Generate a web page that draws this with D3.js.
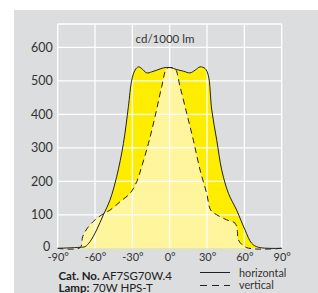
<!DOCTYPE html>
<html>
<head>
<meta charset="utf-8">
<script src="https://cdn.jsdelivr.net/npm/d3@7"></script>
<style>
  body { margin: 0; background: #fff; }
  svg { display: block; font-family: Lato, "Noto Sans", sans-serif; }
</style>
</head>
<body>
<svg id="chart"></svg>
<script>
const W = 318, H = 293;

// angle (deg) and candela values
const hAngles = [-90, -72, -68, -64, -58.7, -53.3, -48, -42.6, -37.2, -33.2, -30.5, -27.9, -25.2, -22.5, -18.5, -14.5, -10.4, -5, 0.3, 5.6, 11, 16.3, 20.4, 24.4, 28.4, 31, 33.8, 37.8, 41.8, 47.2, 53.8, 60.5, 65.9, 71.3, 90];
const hValues = [0, 3, 5, 20, 55, 100, 144, 214, 313, 423, 502, 532, 542, 537, 524, 527, 532, 539, 540, 534, 529, 524, 532, 542, 537, 517, 413, 323, 234, 164, 114, 55, 15, 3, 0];

const vAngles = [-90, -72, -69.9, -66.2, -60, -54.6, -48, -39.9, -31.9, -26.5, -22.5, -17.1, -11.8, -6.4, -2.4, 0.8, 4.3, 8.3, 13.7, 19, 24.4, 29.7, 33, 37.8, 45.8, 52.5, 54.4, 55.2, 61.9, 90];
const vValues = [0, 2, 35, 60, 85, 100, 114, 139, 164, 199, 244, 313, 393, 483, 537, 540, 537, 483, 403, 323, 234, 164, 114, 100, 85, 75, 50, 25, 2, 0];

const xTicks = [-90, -60, -30, 0, 30, 60, 90];
const yTicks = [0, 100, 200, 300, 400, 500, 600];

const horiz = hAngles.map((a, i) => [a, hValues[i]]);
const vert = vAngles.map((a, i) => [a, vValues[i]]);

const svg = d3.select('#chart').attr('width', W).attr('height', H);

svg.append('rect')
  .attr('x', 14).attr('y', 10)
  .attr('width', W - 14).attr('height', H - 10)
  .attr('fill', '#dcddde');

const x = d3.scaleLinear().domain([-90, 90]).range([57.7, 281.7]);
const y = d3.scaleLinear().domain([0, 670]).range([248.3, 24]);

const area = d3.area()
  .x(d => x(d[0])).y0(y(0)).y1(d => y(d[1]))
  .curve(d3.curveCatmullRom.alpha(0.5));
const line = d3.line()
  .x(d => x(d[0])).y(d => y(d[1]))
  .curve(d3.curveCatmullRom.alpha(0.5));

svg.append('path').attr('d', area(horiz)).attr('fill', '#ffed00');
svg.append('path').attr('d', area(vert)).attr('fill', '#fff59c');

// grid on top of fills
const grid = svg.append('g').attr('stroke', '#fff').attr('stroke-width', 1.3);
grid.selectAll('line.v')
  .data(xTicks)
  .enter()
  .append('line')
  .attr('x1', d => x(d)).attr('x2', d => x(d))
  .attr('y1', y(0)).attr('y2', y.range()[1]);
grid.selectAll('line.h')
  .data(yTicks.slice(1).concat([670]))
  .enter()
  .append('line')
  .attr('x1', x(-90)).attr('x2', x(90))
  .attr('y1', d => y(d)).attr('y2', d => y(d));

svg.append('path').attr('d', line(horiz))
  .attr('fill', 'none').attr('stroke', '#222').attr('stroke-width', 1);
svg.append('path').attr('d', line(vert))
  .attr('fill', 'none').attr('stroke', '#222').attr('stroke-width', 1)
  .attr('stroke-dasharray', '6,4');

// axes, drawn with d3 axes but styled like the reference
const yAxis = svg.append('g')
  .attr('transform', `translate(${x(-90)},0)`)
  .call(d3.axisLeft(y).tickValues(yTicks).tickSize(0).tickPadding(5));
yAxis.select('.domain').remove();
yAxis.selectAll('text').attr('font-size', 12.5).attr('fill', '#333').attr('font-family', 'Lato, sans-serif');
yAxis.selectAll('.tick').filter(d => d === 0).select('text').attr('dy', '0.15em').attr('x', -7.5);

const xAxis = svg.append('g')
  .attr('transform', `translate(0,${y(0)})`)
  .call(d3.axisBottom(x).tickValues(xTicks).tickSize(0).tickPadding(5).tickFormat(d => d + '°'));
xAxis.select('.domain').remove();
xAxis.selectAll('text').attr('font-size', 11).attr('fill', '#333').attr('font-family', 'Lato, sans-serif');

svg.append('text')
  .attr('x', 165).attr('y', 43)
  .attr('text-anchor', 'middle')
  .attr('font-size', 11.5).attr('fill', '#333')
  .text('cd/1000 lm');

// info and legend
const info = svg.append('g').attr('fill', '#222').attr('font-size', 11.5);
const t1 = info.append('text').attr('x', 58.5).attr('y', 279.5);
t1.append('tspan').attr('font-weight', 'bold').text('Cat. No.');
t1.append('tspan').text(' AF7SG70W.4');
const t2 = info.append('text').attr('x', 58.5).attr('y', 291.5);
t2.append('tspan').attr('font-weight', 'bold').text('Lamp:');
t2.append('tspan').text(' 70W HPS-T');

svg.append('line').attr('x1', 200).attr('x2', 230).attr('y1', 272.5).attr('y2', 272.5)
  .attr('stroke', '#222').attr('stroke-width', 1);
svg.append('line').attr('x1', 200).attr('x2', 230).attr('y1', 285.5).attr('y2', 285.5)
  .attr('stroke', '#222').attr('stroke-width', 1).attr('stroke-dasharray', '7,5');
info.append('text').attr('x', 239).attr('y', 277).attr('fill', '#333').attr('font-size', 10.8).text('horizontal');
info.append('text').attr('x', 239).attr('y', 289).attr('fill', '#333').attr('font-size', 10.8).text('vertical');
</script>
</body>
</html>
